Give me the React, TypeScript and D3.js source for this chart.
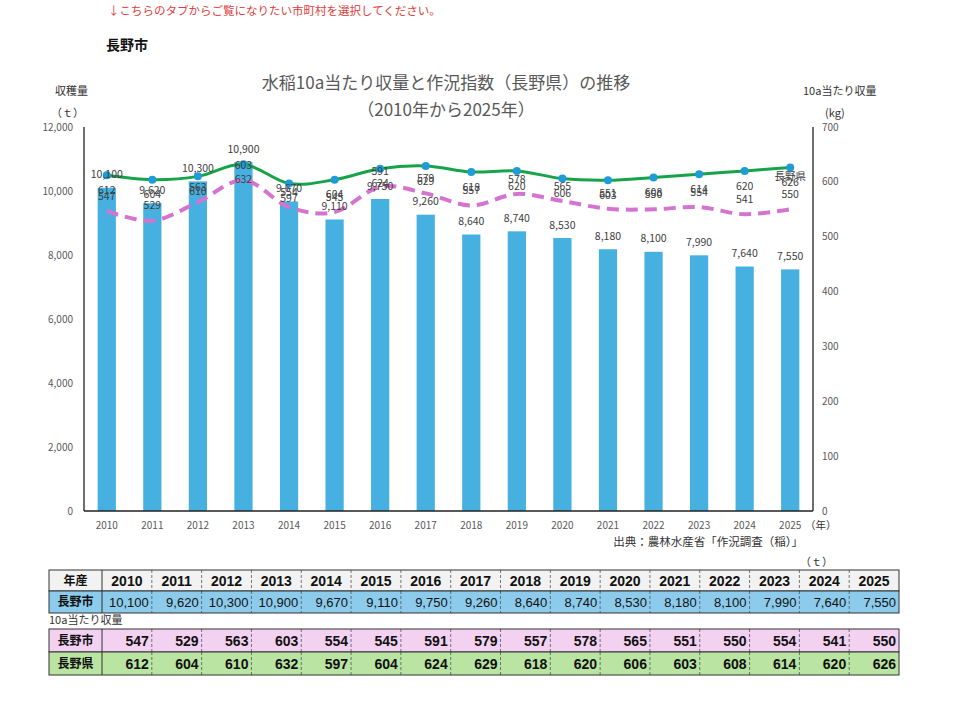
import React from "react";
import * as d3 from "d3";

// values
const years = [2010, 2011, 2012, 2013, 2014, 2015, 2016, 2017, 2018, 2019, 2020, 2021, 2022, 2023, 2024, 2025];
const harvest = [10100, 9620, 10300, 10900, 9670, 9110, 9750, 9260, 8640, 8740, 8530, 8180, 8100, 7990, 7640, 7550];
const cityYield = [547, 529, 563, 603, 554, 545, 591, 579, 557, 578, 565, 551, 550, 554, 541, 550];
const prefYield = [612, 604, 610, 632, 597, 604, 624, 629, 618, 620, 606, 603, 608, 614, 620, 626];
const leftTicks = [0, 2000, 4000, 6000, 8000, 10000, 12000];
const rightTicks = [0, 100, 200, 300, 400, 500, 600, 700];

const W = 960;
const H = 701;
const plot = { left: 84, right: 813, top: 127, bottom: 511 };
const jp = "'Noto Sans CJK JP', 'Noto Sans', sans-serif";
const narrow = "'Liberation Sans Narrow', 'Liberation Sans', Arial, sans-serif";
const grey = "#595959";

const fmt = d3.format(",");

const App = () => {
  const x = d3.scaleBand<number>()
    .domain(years)
    .range([plot.left, plot.right])
    .paddingInner(0.6)
    .paddingOuter(0.3);
  const yL = d3.scaleLinear().domain([0, 12000]).range([plot.bottom, plot.top]);
  const yR = d3.scaleLinear().domain([0, 700]).range([plot.bottom, plot.top]);
  const cx = (i: number) => (x(years[i]) as number) + x.bandwidth() / 2;

  const line = d3.line<number>()
    .x((_, i) => cx(i))
    .y((d) => yR(d))
    .curve(d3.curveCardinal.tension(0));

  // table geometry
  const t0 = 49;
  const firstCol = 53;
  const colW = (899 - t0 - firstCol) / years.length;
  const rows = [
    { y: 570, h: 21, label: "年産", fill: "#f2f2f2", vals: years.map(String), bold: true, center: true },
    { y: 591, h: 22, label: "長野市", fill: "#8ccbeb", vals: harvest.map(fmt), bold: false, center: false },
    { y: 629, h: 23, label: "長野市", fill: "#f3d1f1", vals: cityYield.map(String), bold: true, center: false },
    { y: 652, h: 23, label: "長野県", fill: "#b9e4a2", vals: prefYield.map(String), bold: true, center: false },
  ];

  return (
    <svg width={W} height={H} style={{ position: "absolute", left: 0, top: 0, background: "#fff" }}>
      <text x={108} y={15} fontFamily={jp} fontSize={11.5} fill="#e03c3c">
        ↓こちらのタブからご覧になりたい市町村を選択してください。
      </text>
      <text x={106} y={50} fontFamily={jp} fontSize={14} fontWeight="bold" fill="#111">長野市</text>

      {/* title */}
      <text x={446} y={89} textAnchor="middle" fontFamily={jp} fontSize={17} fill={grey}>
        水稲10a当たり収量と作況指数（長野県）の推移
      </text>
      <text x={446} y={116} textAnchor="middle" fontFamily={jp} fontSize={17} fill={grey}>
        （2010年から2025年）
      </text>

      {/* axis titles */}
      <text x={88} y={95} textAnchor="end" fontFamily={jp} fontSize={11} fill="#333">収穫量</text>
      <text x={84} y={117} textAnchor="end" fontFamily={jp} fontSize={11} fill="#333">（ｔ）</text>
      <text x={803} y={95} fontFamily={jp} fontSize={11} fill="#333">10a当たり収量</text>
      <text x={825} y={117} fontFamily={jp} fontSize={11} fill="#333">(kg)</text>

      {/* bars */}
      {harvest.map((v, i) => (
        <rect key={"b" + i} x={x(years[i])} y={yL(v)} width={x.bandwidth()} height={plot.bottom - yL(v)} fill="#46b0e1" />
      ))}

      {/* axes */}
      <line x1={plot.left} x2={plot.left} y1={plot.top} y2={plot.bottom} stroke="#222" strokeWidth={1.3} />
      <line x1={plot.right} x2={plot.right} y1={plot.top} y2={plot.bottom} stroke="#222" strokeWidth={1.3} />
      <line x1={plot.left} x2={plot.right} y1={plot.bottom} y2={plot.bottom} stroke="#222" strokeWidth={1.3} />
      {leftTicks.map((t) => (
        <text key={"l" + t} x={73} y={yL(t)} dy="0.35em" textAnchor="end" fontFamily={jp} fontSize={10} fill={grey}>
          {fmt(t)}
        </text>
      ))}
      {rightTicks.map((t) => (
        <text key={"r" + t} x={822} y={yR(t)} dy="0.35em" fontFamily={jp} fontSize={10} fill={grey}>
          {t}
        </text>
      ))}
      {years.map((yr, i) => (
        <text key={"x" + yr} x={cx(i)} y={525} dy="0.35em" textAnchor="middle" fontFamily={jp} fontSize={10} fill={grey}>
          {yr}
        </text>
      ))}
      <text x={805} y={525} dy="0.35em" fontFamily={jp} fontSize={10.5} fill="#333">（年）</text>
      <text x={803} y={546} textAnchor="end" fontFamily={jp} fontSize={11.5} fill="#333">
        出典：農林水産省「作況調査（稲）」
      </text>
      <text x={800} y={566} fontFamily={jp} fontSize={11} fill="#333">（ｔ）</text>

      {/* lines */}
      <path d={line(cityYield) || ""} fill="none" stroke="#d573d0" strokeWidth={4} strokeDasharray="12 7" />
      <path d={line(prefYield) || ""} fill="none" stroke="#17a34a" strokeWidth={3} />
      {prefYield.map((v, i) => (
        <circle key={"m" + i} cx={cx(i)} cy={yR(v)} r={4} fill="#1f9bd7" />
      ))}

      {/* data labels */}
      {harvest.map((v, i) => (
        <text key={"hl" + i} x={cx(i)} y={yL(v) - 13} dy="0.35em" textAnchor="middle" fontFamily={jp} fontSize={10.5} fill="#404040">
          {fmt(v)}
        </text>
      ))}
      {prefYield.map((v, i) => (
        <text key={"pl" + i} x={cx(i)} y={yR(v) + 15} dy="0.35em" textAnchor="middle" fontFamily={jp} fontSize={10.5} fill="#404040">
          {v}
        </text>
      ))}
      {cityYield.map((v, i) => (
        <text key={"cl" + i} x={cx(i)} y={yR(v) - 15} dy="0.35em" textAnchor="middle" fontFamily={jp} fontSize={10.5} fill="#404040">
          {v}
        </text>
      ))}
      <text x={cx(15)} y={yR(prefYield[15]) + 9} dy="0.35em" textAnchor="middle" fontFamily={jp} fontSize={10.5} fill="#404040">
        長野県
      </text>

      {/* table */}
      <text x={49} y={624} fontFamily={jp} fontSize={11} fill="#333">10a当たり収量</text>
      {rows.map((r, ri) => (
        <g key={"row" + ri}>
          <rect x={t0} y={r.y} width={899 - t0} height={r.h} fill={r.fill} />
          <text x={t0 + firstCol / 2} y={r.y + r.h / 2} dy="0.36em" textAnchor="middle" fontFamily={jp} fontSize={12} fontWeight="bold" fill="#111">
            {r.label}
          </text>
          {r.vals.map((v, i) => (
            <text
              key={"c" + i}
              x={r.center ? t0 + firstCol + colW * (i + 0.5) : t0 + firstCol + colW * (i + 1) - 3}
              y={r.y + r.h / 2}
              dy="0.36em"
              textAnchor={r.center ? "middle" : "end"}
              fontFamily={narrow}
              fontSize={r.bold ? 14 : 13}
              fontWeight={r.bold ? "bold" : "normal"}
              fill="#111"
            >
              {v}
            </text>
          ))}
          {years.slice(1).map((_, i) => (
            <line key={"d" + i} x1={t0 + firstCol + colW * (i + 1)} x2={t0 + firstCol + colW * (i + 1)} y1={r.y} y2={r.y + r.h} stroke="#555" strokeWidth={0.8} strokeDasharray="3 2" />
          ))}
          <line x1={t0 + firstCol} x2={t0 + firstCol} y1={r.y} y2={r.y + r.h} stroke="#333" strokeWidth={1} />
          <rect x={t0} y={r.y} width={899 - t0} height={r.h} fill="none" stroke="#333" strokeWidth={1} />
        </g>
      ))}
    </svg>
  );
};

export default App;
